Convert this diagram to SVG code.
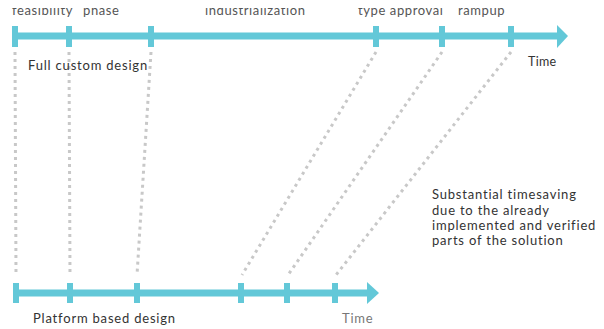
<svg xmlns="http://www.w3.org/2000/svg" width="604" height="329" viewBox="0 0 604 329">
<defs>
<clipPath id="topclip"><rect x="0" y="8" width="604" height="20"/></clipPath>
</defs>
<style>
.axis{stroke:#63c8d8;stroke-width:7;fill:none}
.tick{fill:#63c8d8}
.head{fill:#63c8d8}
.dot{stroke:#c8c8c8;stroke-width:3;stroke-dasharray:3 4;fill:none}
.lbl{font-family:Lato,"Noto Sans",sans-serif;font-size:13px;fill:#555;letter-spacing:0.6px}
.txt{font-family:Lato,"Noto Sans",sans-serif;font-size:13px;fill:#333;letter-spacing:0.8px}
.time1{font-size:12.5px;letter-spacing:0.3px}
.time2{fill:#777}
</style>
<rect width="604" height="329" fill="#fff"/>
<g id="connectors">
<line class="dot" x1="15" y1="52" x2="16" y2="275"/>
<line class="dot" x1="69" y1="52" x2="70" y2="275"/>
<line class="dot" x1="151" y1="52" x2="137" y2="275"/>
<line class="dot" x1="376" y1="52" x2="242" y2="275"/>
<line class="dot" x1="442" y1="52" x2="288" y2="275"/>
<line class="dot" x1="511" y1="52" x2="336" y2="275"/>
</g>
<g id="top-axis">
<line class="axis" x1="12" y1="36" x2="558" y2="36"/>
<polygon class="head" points="557,25 568,36 557,48"/>
<rect class="tick" x="12" y="26" width="6" height="21"/>
<rect class="tick" x="66" y="26" width="6" height="21"/>
<rect class="tick" x="148" y="26" width="6" height="21"/>
<rect class="tick" x="373" y="26" width="6" height="21"/>
<rect class="tick" x="439" y="26" width="6" height="21"/>
<rect class="tick" x="508" y="26" width="6" height="21"/>
</g>
<g id="top-labels" clip-path="url(#topclip)">
<text class="lbl" x="12" y="15">feasibility</text>
<text class="lbl" x="83" y="15">phase</text>
<text class="lbl" x="205" y="15">industrialization</text>
<text class="lbl" x="358" y="15">type approval</text>
<text class="lbl" x="458" y="15">rampup</text>
</g>
<g id="full-custom">
<text class="txt" x="28" y="70">Full custom design</text>
<text class="txt time1" x="528" y="66">Time</text>
</g>
<g id="bottom-axis">
<line class="axis" x1="13" y1="293" x2="368" y2="293"/>
<polygon class="head" points="367,282 379,293 367,304"/>
<rect class="tick" x="13" y="283" width="6" height="20"/>
<rect class="tick" x="67" y="283" width="6" height="20"/>
<rect class="tick" x="134" y="283" width="6" height="20"/>
<rect class="tick" x="238" y="283" width="6" height="20"/>
<rect class="tick" x="284" y="283" width="6" height="20"/>
<rect class="tick" x="332" y="283" width="6" height="20"/>
</g>
<g id="platform">
<text class="txt" x="33" y="323">Platform based design</text>
<text class="txt time2" x="342" y="323">Time</text>
</g>
<g id="note">
<text class="txt" x="432" y="199">Substantial timesaving</text>
<text class="txt" x="432" y="214.5">due to the already</text>
<text class="txt" x="432" y="230">implemented and verified</text>
<text class="txt" x="432" y="245">parts of the solution</text>
</g>
</svg>
